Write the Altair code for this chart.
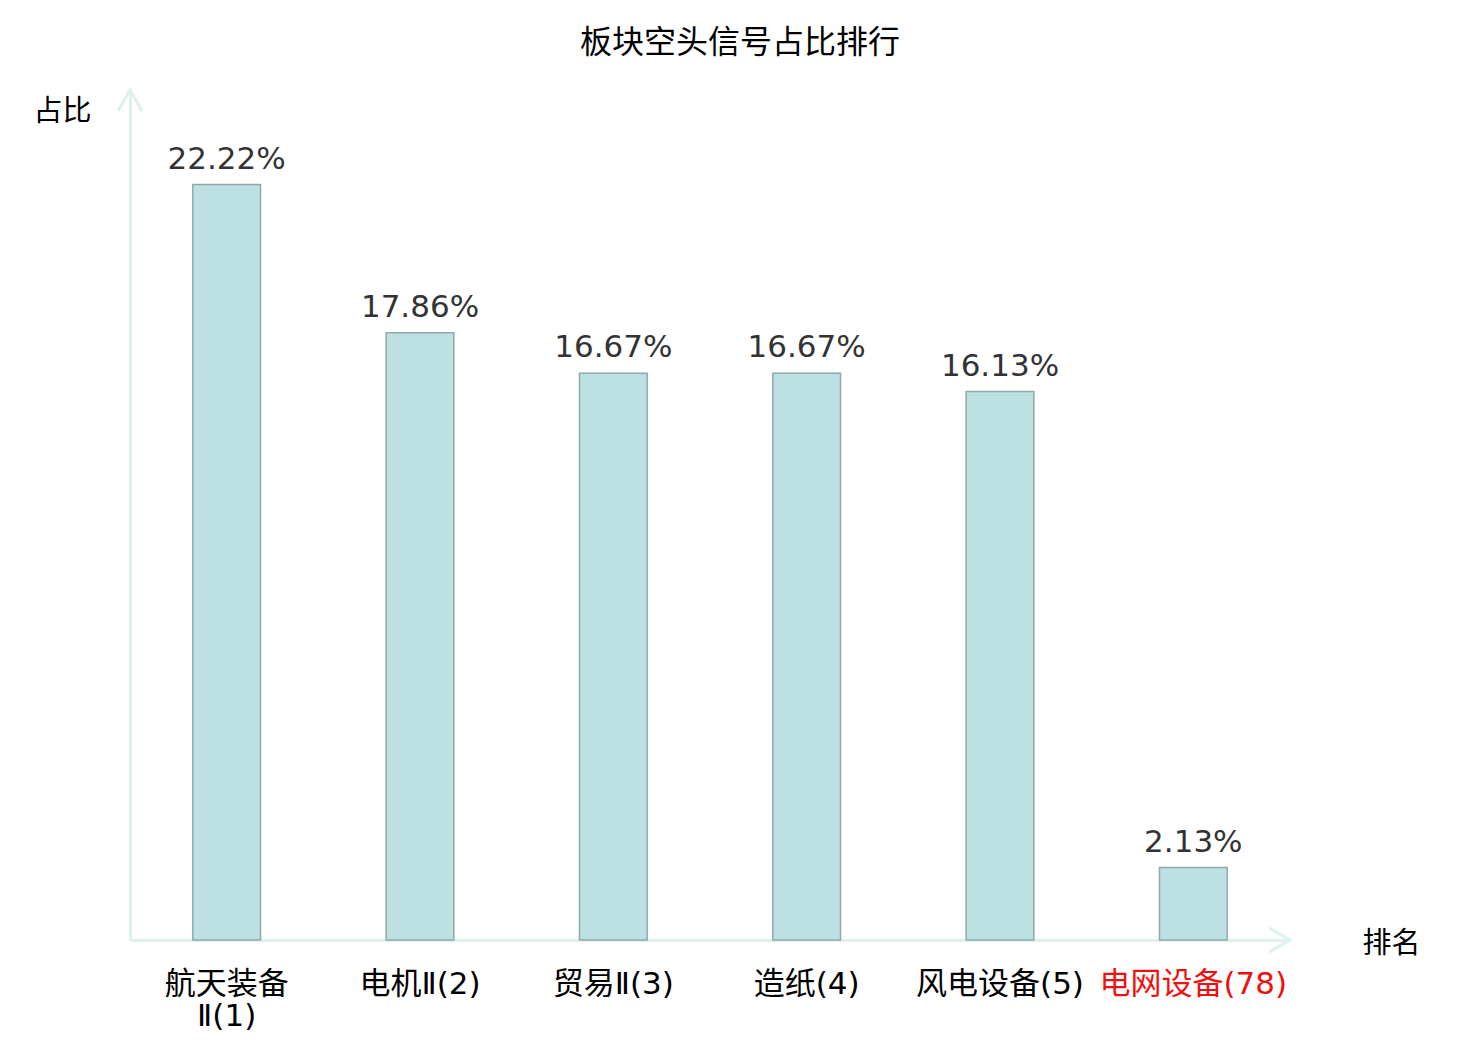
import altair as alt
import pandas as pd

categories = ["航天装备Ⅱ(1)", "电机Ⅱ(2)", "贸易Ⅱ(3)", "造纸(4)", "风电设备(5)", "电网设备(78)"]
values = [22.22, 17.86, 16.67, 16.67, 16.13, 2.13]
value_labels = ["22.22%", "17.86%", "16.67%", "16.67%", "16.13%", "2.13%"]
highlight = "电网设备(78)"
wrapped = "航天装备Ⅱ(1)"

df = pd.DataFrame({"cat": categories, "val": values, "lab": value_labels})

AX = "#ddf1ee"
CJK = "Noto Sans CJK SC"
LABEL_FONT = "'DejaVu Sans ExtraLight', 'DejaVu Sans', 'Noto Sans CJK SC'"
W, H = 1160, 850

x_enc = alt.X(
    "cat:N",
    sort=categories,
    scale=alt.Scale(paddingInner=0.65, paddingOuter=0.325),
    axis=alt.Axis(
        title="排名",
        titleFont=CJK,
        titleFontSize=29,
        titleFontWeight="normal",
        titleColor="#000000",
        titleAngle=0,
        titleX=1261,
        titleY=3,
        titleAlign="center",
        titleBaseline="middle",
        labelFont=LABEL_FONT,
        labelFontSize=31,
        labelAngle=0,
        labelPadding=29,
        labelLimit=0,
        labelOverlap=False,
        labelLineHeight=32,
        labelColor={"expr": f"datum.value == '{highlight}' ? '#f01010' : '#000000'"},
        labelExpr=f"datum.value == '{wrapped}' ? ['航天装备', 'Ⅱ(1)'] : datum.label",
        ticks=False,
        domainColor=AX,
        domainWidth=3,
        grid=False,
    ),
)

y_enc = alt.Y(
    "val:Q",
    scale=alt.Scale(domain=[0, 25], nice=False),
    axis=alt.Axis(
        title="占比",
        titleFont=CJK,
        titleFontSize=29,
        titleFontWeight="normal",
        titleColor="#000000",
        titleAngle=0,
        titleX=-68,
        titleY=21,
        titleAlign="center",
        titleBaseline="middle",
        labels=False,
        ticks=False,
        grid=False,
        domainColor=AX,
        domainWidth=3,
    ),
)

bars = alt.Chart(df).mark_bar(fill="#bde0e3", stroke="#8fa9aa", strokeWidth=1.5).encode(x=x_enc, y=y_enc)

texts = alt.Chart(df).mark_text(
    font="DejaVu Sans", fontSize=31, color="#333333", baseline="alphabetic", dy=-16
).encode(x=alt.X("cat:N", sort=categories), y="val:Q", text="lab:N")

arrow_x = alt.Chart(pd.DataFrame({"a": [0]})).mark_point(
    shape="M-1.75,-1L0,0L-1.75,1", filled=False, stroke=AX, strokeWidth=3, size=576, opacity=1
).encode(x=alt.value(W), y=alt.value(H))

arrow_y = alt.Chart(pd.DataFrame({"a": [0]})).mark_point(
    shape="M-1,1.75L0,0L1,1.75", filled=False, stroke=AX, strokeWidth=3, size=576, opacity=1
).encode(x=alt.value(0), y=alt.value(0))

chart = (
    alt.layer(bars, texts, arrow_x, arrow_y)
    .properties(
        width=W,
        height=H,
        title=alt.TitleParams(
            "板块空头信号占比排行",
            font=CJK,
            fontSize=32,
            fontWeight="normal",
            color="#000000",
            anchor="middle",
            frame="group",
            dx=30,
            offset=24,
        ),
        autosize=alt.AutoSizeParams(type="none"),
        padding={"left": 122, "top": 82, "right": 170, "bottom": 96},
    )
    .configure_view(stroke=None)
)

chart.save("out.html", embed_options={"renderer": "svg", "actions": False})
